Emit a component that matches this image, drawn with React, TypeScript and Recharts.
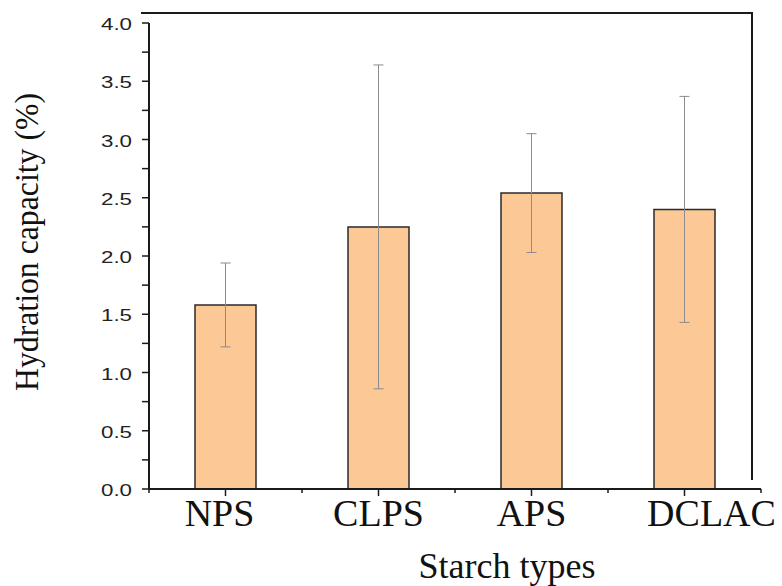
import React from "react";
import { BarChart, Bar, XAxis, YAxis, ErrorBar } from "recharts";

const categories = ["NPS", "CLPS", "APS", "DCLAC"];
const hydration = [1.58, 2.25, 2.54, 2.4];
const errors = [0.36, 1.39, 0.51, 0.97];
const yTicks = [0, 0.25, 0.5, 0.75, 1, 1.25, 1.5, 1.75, 2, 2.25, 2.5, 2.75, 3, 3.25, 3.5, 3.75, 4];

const data = categories.map((c, i) => ({ name: c, value: hydration[i], err: errors[i] }));

// styling: horizontal nudge of each category label (px)
const labelShift = [-6, 0, 0, 27];

const W = 782;
const H = 586;
const MARGIN = { top: 23, right: 21, bottom: 57, left: 0 };
const Y_AXIS_W = 149;
const X_AXIS_H = 40;
const PLOT_W = W - MARGIN.left - MARGIN.right - Y_AXIS_W;
const BAND = PLOT_W / categories.length;
const AXIS_COLOR = "#1a1a1a";
const SERIF = "'Liberation Serif', 'Times New Roman', serif";
const SANS = "'Liberation Sans', Arial, sans-serif";

const YTick = (props: any) => {
  const { x, y, payload } = props;
  const v = payload.value as number;
  const major = Math.abs(v * 2 - Math.round(v * 2)) < 1e-6;
  return (
    <g>
      <line x1={x - 7} x2={x} y1={y} y2={y} stroke={AXIS_COLOR} strokeWidth={1.5} />
      {major && (
        <text
          x={x - 17}
          y={y}
          dy={7}
          textAnchor="end"
          fontFamily={SANS}
          fontSize={16}
          textLength={31}
          lengthAdjust="spacingAndGlyphs"
          fill="#222"
        >
          {v.toFixed(1)}
        </text>
      )}
    </g>
  );
};

const XTick = (props: any) => {
  const { x, y, payload, index } = props;
  const last = index === categories.length - 1;
  return (
    <g>
      <line x1={x} x2={x} y1={y} y2={y + 7} stroke={AXIS_COLOR} strokeWidth={1.5} />
      <line x1={x - BAND / 2} x2={x - BAND / 2} y1={y} y2={y + 4} stroke={AXIS_COLOR} strokeWidth={1.5} />
      {last && (
        <line x1={x + BAND / 2} x2={x + BAND / 2} y1={y} y2={y + 4} stroke={AXIS_COLOR} strokeWidth={1.5} />
      )}
      <text
        x={x + (labelShift[index] || 0)}
        y={y}
        dy={37}
        textAnchor="middle"
        fontFamily={SERIF}
        fontSize={38}
        fill="#111"
      >
        {payload.value}
      </text>
    </g>
  );
};

export default function App() {
  return (
    <div style={{ position: "absolute", left: 0, top: 0, width: W, height: H, background: "#fff" }}>
      <BarChart width={W} height={H} data={data} margin={MARGIN} barCategoryGap={0}>
        <XAxis
          dataKey="name"
          height={X_AXIS_H}
          tickSize={0}
          tickMargin={0}
          tickLine={false}
          axisLine={{ stroke: AXIS_COLOR, strokeWidth: 2 }}
          tick={<XTick />}
          interval={0}
        />
        <YAxis
          width={Y_AXIS_W}
          domain={[0, 4]}
          ticks={yTicks}
          interval={0}
          tickSize={0}
          tickMargin={0}
          tickLine={false}
          axisLine={{ stroke: AXIS_COLOR, strokeWidth: 2 }}
          tick={<YTick />}
          allowDataOverflow
        />
        <Bar dataKey="value" fill="#FBC896" stroke="#2a2a2a" strokeWidth={1.5} barSize={61} isAnimationActive={false}>
          <ErrorBar dataKey="err" width={5} stroke="#8c8c8c" strokeWidth={1} direction="y" />
        </Bar>
      </BarChart>
      <svg
        width={W}
        height={H}
        style={{ position: "absolute", left: 0, top: 0, pointerEvents: "none" }}
      >
        <line x1={141} x2={753} y1={13} y2={13} stroke={AXIS_COLOR} strokeWidth={2} />
        <line x1={752} x2={752} y1={13} y2={480} stroke={AXIS_COLOR} strokeWidth={2} />
        <text
          x={507}
          y={578}
          textAnchor="middle"
          fontFamily={SERIF}
          fontSize={36}
          fill="#111"
        >
          Starch types
        </text>
        <text
          transform="translate(38,242) rotate(-90)"
          textAnchor="middle"
          fontFamily={SERIF}
          fontSize={34}
          textLength={298}
          lengthAdjust="spacingAndGlyphs"
          fill="#111"
        >
          Hydration capacity (%)
        </text>
      </svg>
    </div>
  );
}
